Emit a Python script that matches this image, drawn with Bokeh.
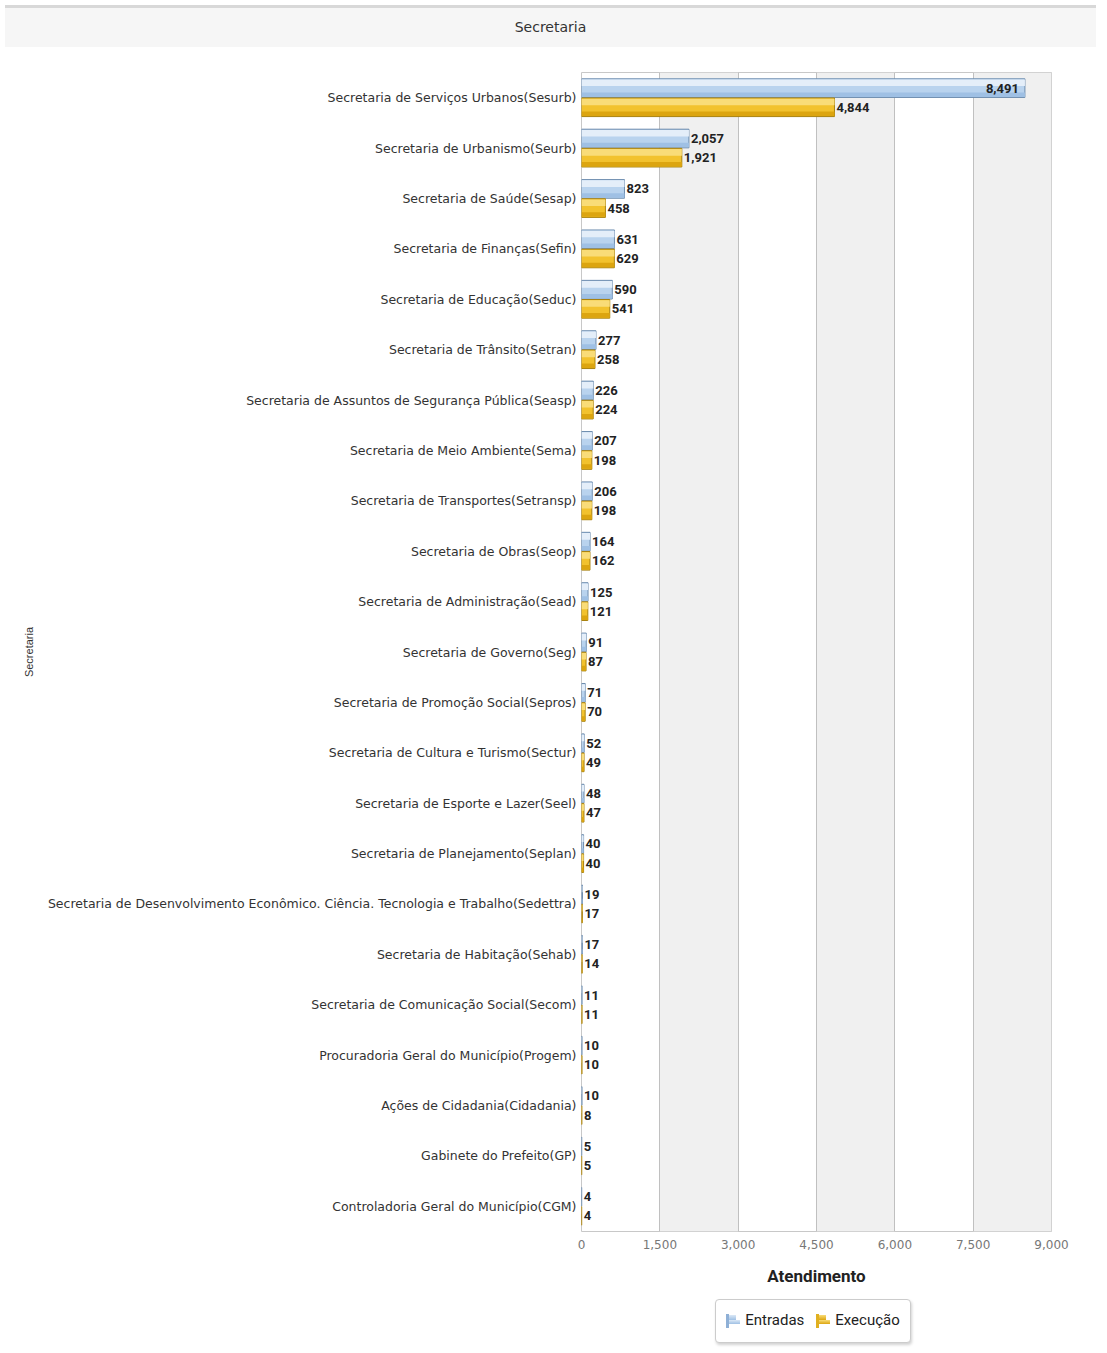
from bokeh.plotting import figure
from bokeh.models import (ColumnDataSource, Range1d, FactorRange,
                          NumeralTickFormatter, FixedTicker, Div)
from bokeh.layouts import column
from bokeh.transform import dodge
from bokeh.core.properties import value
from bokeh.embed import file_html
from bokeh.resources import INLINE

categories = [
    "Secretaria de Serviços Urbanos(Sesurb)",
    "Secretaria de Urbanismo(Seurb)",
    "Secretaria de Saúde(Sesap)",
    "Secretaria de Finanças(Sefin)",
    "Secretaria de Educação(Seduc)",
    "Secretaria de Trânsito(Setran)",
    "Secretaria de Assuntos de Segurança Pública(Seasp)",
    "Secretaria de Meio Ambiente(Sema)",
    "Secretaria de Transportes(Setransp)",
    "Secretaria de Obras(Seop)",
    "Secretaria de Administração(Sead)",
    "Secretaria de Governo(Seg)",
    "Secretaria de Promoção Social(Sepros)",
    "Secretaria de Cultura e Turismo(Sectur)",
    "Secretaria de Esporte e Lazer(Seel)",
    "Secretaria de Planejamento(Seplan)",
    "Secretaria de Desenvolvimento Econômico. Ciência. Tecnologia e Trabalho(Sedettra)",
    "Secretaria de Habitação(Sehab)",
    "Secretaria de Comunicação Social(Secom)",
    "Procuradoria Geral do Município(Progem)",
    "Ações de Cidadania(Cidadania)",
    "Gabinete do Prefeito(GP)",
    "Controladoria Geral do Município(CGM)",
]
entradas = [8491, 2057, 823, 631, 590, 277, 226, 207, 206, 164, 125, 91, 71, 52, 48, 40, 19, 17, 11, 10, 10, 5, 4]
execucao = [4844, 1921, 458, 629, 541, 258, 224, 198, 198, 162, 121, 87, 70, 49, 47, 40, 17, 14, 11, 10, 8, 5, 4]
x_ticks = [0, 1500, 3000, 4500, 6000, 7500, 9000]
series_names = ["Entradas", "Execução"]
title_text = "Secretaria"
x_title = "Atendimento"
y_title = "Secretaria"

XMAX = x_ticks[-1]

def lbl_align(vals):
    return ["right" if v > 0.85 * XMAX else "left" for v in vals]

def lbl_off(vals):
    return [-6 if v > 0.85 * XMAX else 2 for v in vals]

src = ColumnDataSource(dict(
    cat=categories,
    ent=entradas,
    exe=execucao,
    ent_lbl=[f"{v:,}" for v in entradas],
    exe_lbl=[f"{v:,}" for v in execucao],
    ent_align=lbl_align(entradas),
    exe_align=lbl_align(execucao),
    ent_off=lbl_off(entradas),
    exe_off=lbl_off(execucao),
))

p = figure(
    y_range=FactorRange(factors=categories[::-1], range_padding=0),
    x_range=Range1d(0, XMAX),
    frame_width=470, frame_height=1159,
    output_backend="svg", toolbar_location=None,
    min_border_top=20, min_border_right=40, min_border_left=581, min_border_bottom=60,
    background_fill_color="white", border_fill_color="white",
    outline_line_color="#c8c8c8",
)

yr = p.y_range
OFF = 0.19
H = 0.37

# Entradas
p.hbar(y=dodge("cat", OFF, range=yr), left=0, right="ent", height=H, source=src,
       fill_color="#b9d3ee", line_color="#6d8cae", line_width=1)
p.hbar(y=dodge("cat", OFF + 0.105, range=yr), left=0, right="ent", height=0.13, source=src,
       fill_color="#e4eef9", line_color=None)
p.hbar(y=dodge("cat", OFF - 0.13, range=yr), left=0, right="ent", height=0.09, source=src,
       fill_color="#9fc0e4", line_color=None)
# Execução
p.hbar(y=dodge("cat", -OFF, range=yr), left=0, right="exe", height=H, source=src,
       fill_color="#f2c22e", line_color="#a9820f", line_width=1)
p.hbar(y=dodge("cat", -OFF + 0.105, range=yr), left=0, right="exe", height=0.13, source=src,
       fill_color="#f9dc78", line_color=None)
p.hbar(y=dodge("cat", -OFF - 0.13, range=yr), left=0, right="exe", height=0.09, source=src,
       fill_color="#dca510", line_color=None)

p.text(x="ent", y=dodge("cat", OFF, range=yr), text="ent_lbl", source=src,
       x_offset="ent_off", text_align="ent_align", text_baseline="middle",
       text_font_size="13px", text_font_style="bold", text_color="#222222",
       text_font=value("Roboto"))
p.text(x="exe", y=dodge("cat", -OFF, range=yr), text="exe_lbl", source=src,
       x_offset="exe_off", text_align="exe_align", text_baseline="middle",
       text_font_size="13px", text_font_style="bold", text_color="#222222",
       text_font=value("Roboto"))

# grid
p.ygrid.grid_line_color = None
p.xgrid.grid_line_color = "#c0c0c0"
p.xgrid.band_fill_color = "#f0f0f0"
p.xgrid.band_fill_alpha = 1.0
p.xaxis.ticker = FixedTicker(ticks=x_ticks)
p.xaxis.formatter = NumeralTickFormatter(format="0,0")

# x axis
p.xaxis.axis_line_color = None
p.xaxis.major_tick_line_color = None
p.xaxis.minor_tick_line_color = None
p.xaxis.major_tick_out = 0
p.xaxis.minor_tick_out = 0
p.xaxis.major_label_text_font = "DejaVu Sans"
p.xaxis.major_label_text_font_size = "12px"
p.xaxis.major_label_text_color = "#777777"
p.xaxis.major_label_standoff = 8
p.xaxis.axis_label = x_title
p.xaxis.axis_label_text_font = "Roboto"
p.xaxis.axis_label_text_font_size = "17px"
p.xaxis.axis_label_text_font_style = "bold"
p.xaxis.axis_label_text_color = "#222222"
p.xaxis.axis_label_standoff = 14

# y axis
p.yaxis.axis_line_color = None
p.yaxis.major_tick_line_color = None
p.yaxis.minor_tick_line_color = None
p.yaxis.major_tick_out = 0
p.yaxis.minor_tick_out = 0
p.yaxis.major_label_text_font = "DejaVu Sans"
p.yaxis.major_label_text_font_size = "12.5px"
p.yaxis.major_label_text_color = "#333333"
p.yaxis.major_label_standoff = 5
p.yaxis.axis_label = y_title
p.yaxis.axis_label_text_font = "Liberation Sans"
p.yaxis.axis_label_text_font_size = "11px"
p.yaxis.axis_label_text_font_style = "normal"
p.yaxis.axis_label_text_color = "#333333"
p.yaxis.axis_label_standoff = 10

title = Div(text=title_text, width=1091, height=42,
            styles={"background-color": "#f6f6f6", "border-top": "3px solid #d8d8d8",
                    "text-align": "center", "font-family": "DejaVu Sans",
                    "font-size": "14px", "color": "#333333", "line-height": "38px",
                    "width": "1091px", "height": "42px", "box-sizing": "border-box"})

def icon(c_light, c_dark, c_edge):
    return (f'<span style="display:inline-block;width:14px;height:14px;position:relative;margin-right:5px;">'
            f'<span style="position:absolute;left:0;top:0;width:3px;height:14px;background:{c_edge};"></span>'
            f'<span style="position:absolute;left:3px;top:1px;width:7px;height:5px;background:linear-gradient({c_light},{c_dark});"></span>'
            f'<span style="position:absolute;left:3px;top:6px;width:11px;height:4px;background:linear-gradient({c_light},{c_dark});"></span>'
            f'</span>')

legend_html = (
    '<div style="margin-left:710px;margin-top:3px;width:196px;height:44px;box-sizing:border-box;'
    'border:1px solid #cccccc;border-radius:4px;box-shadow:1px 2px 3px rgba(0,0,0,0.18);background:white;'
    'display:flex;align-items:center;justify-content:center;'
    'font-family:Roboto;font-size:15px;color:#222222;">'
    f'<span style="display:inline-flex;align-items:center;margin-right:12px;">{icon("#dbe8f6", "#9fc0e4", "#8fb0d6")}{series_names[0]}</span>'
    f'<span style="display:inline-flex;align-items:center;">{icon("#f9dc78", "#dca510", "#e0b020")}{series_names[1]}</span>'
    '</div>'
)
legend_div = Div(text=legend_html, width=1091, height=52)

layout = column(title, p, legend_div, spacing=0)
open("out.html", "w").write(file_html(layout, INLINE))
